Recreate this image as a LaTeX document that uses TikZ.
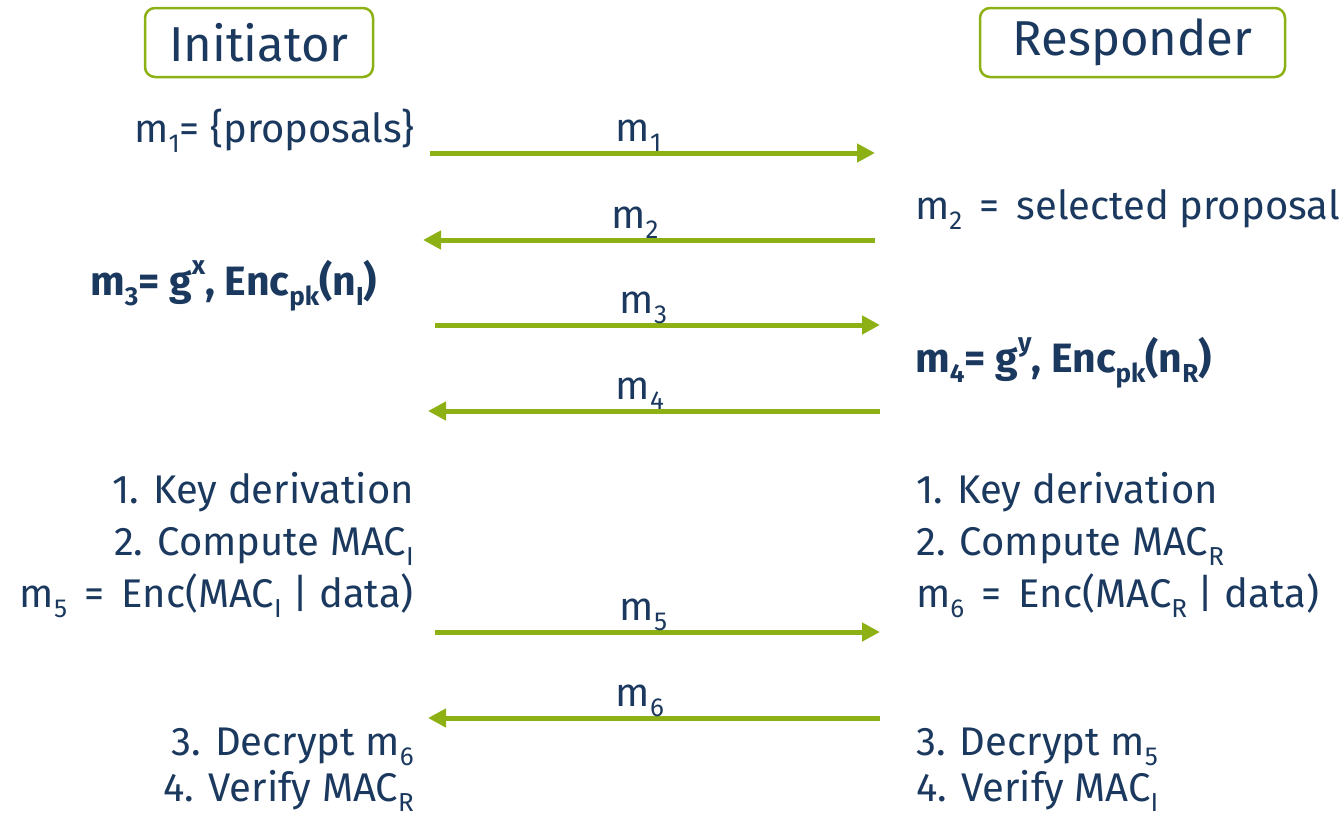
\documentclass[tikz,border=0pt]{standalone}
\usepackage{fontspec}
\setmainfont{Fira Sans}
\usetikzlibrary{arrows.meta}
\definecolor{lime}{RGB}{141,176,20}
\definecolor{navy}{RGB}{27,57,94}
% lowered / raised indices set in text font
\newcommand{\lo}[1]{\raisebox{-0.25em}{\fontsize{26}{26}\selectfont #1}}
\newcommand{\hi}[1]{\raisebox{0.5em}{\fontsize{26}{26}\selectfont #1}}
\tikzset{
  party/.style={draw=lime, line width=2.5pt, rounded corners=10pt, text=navy,
    font=\fontsize{49}{54}\selectfont, inner sep=0pt},
  txt/.style={text=navy, font=\fontsize{40}{44}\selectfont, inner sep=0pt},
  btxt/.style={text=navy, font=\fontsize{41}{44}\selectfont\bfseries, inner sep=0pt},
  msg/.style={draw=lime, line width=5pt, -{Triangle[length=18pt,width=18pt]}},
  lbl/.style={txt, anchor=base, yshift=12pt, xshift=-14pt}
}
\begin{document}
\begin{tikzpicture}[x=1pt,y=-1pt]
\useasboundingbox (0,0) rectangle (1342,820);

% the two parties
\node[party, minimum width=228, minimum height=69] (ini) at (259,42.5) {Initiator};
\node[party, minimum width=305, minimum height=69] (res) at (1132.5,42.5) {Responder};

% arrow end points
\coordinate (a1s) at (430,153);  \coordinate (a1e) at (875,153);
\coordinate (a2s) at (875,240);  \coordinate (a2e) at (423,240);
\coordinate (a3s) at (435,325);  \coordinate (a3e) at (880,325);
\coordinate (a4s) at (880,411);  \coordinate (a4e) at (428,411);
\coordinate (a5s) at (435,632);  \coordinate (a5e) at (880,632);
\coordinate (a6s) at (880,718);  \coordinate (a6e) at (428,718);

% messages
\draw[msg] (a1s) -- node[lbl] (l1) {m\lo{1}} (a1e);
\draw[msg] (a2s) -- node[lbl] (l2) {m\lo{2}} (a2e);
\draw[msg] (a3s) -- node[lbl] (l3) {m\lo{3}} (a3e);
\draw[msg] (a4s) -- node[lbl] (l4) {m\lo{4}} (a4e);
\draw[msg] (a5s) -- node[lbl] (l5) {m\lo{5}} (a5e);
\draw[msg] (a6s) -- node[lbl] (l6) {m\lo{6}} (a6e);

% initiator side
\node[txt, anchor=base east] (t1) at (415,142) {m\lo{1}= \{proposals\}};
\node[btxt, anchor=base west] (t3) at (90,295) {m\lo{3}= g\hi{x}, Enc\lo{pk}(n\lo{I})};
\node[txt, anchor=base east] (ik1) at (414,503) {1. Key derivation};
\node[txt, anchor=base east] (ik2) at (414,555) {2. Compute MAC\lo{I}};
\node[txt, anchor=base east] (ik3) at (414,607) {m\lo{5}\, =\, Enc(MAC\lo{I} | data)};
\node[txt, anchor=base east] (ik4) at (414,755) {3. Decrypt m\lo{6}};
\node[txt, anchor=base east] (ik5) at (414,801) {4. Verify MAC\lo{R}};

% responder side
\node[txt, anchor=base west] (t2) at (915,219) {m\lo{2}\, =\, selected proposal};
\node[btxt, anchor=base west] (t4) at (915,372) {m\lo{4}= g\hi{y}, Enc\lo{pk}(n\lo{R})};
\node[txt, anchor=base west] (rk1) at (916,503) {1. Key derivation};
\node[txt, anchor=base west] (rk2) at (916,555) {2. Compute MAC\lo{R}};
\node[txt, anchor=base west] (rk3) at (916,607) {m\lo{6}\, =\, Enc(MAC\lo{R} | data)};
\node[txt, anchor=base west] (rk4) at (916,755) {3. Decrypt m\lo{5}};
\node[txt, anchor=base west] (rk5) at (916,801) {4. Verify MAC\lo{I}};
\end{tikzpicture}
\end{document}
